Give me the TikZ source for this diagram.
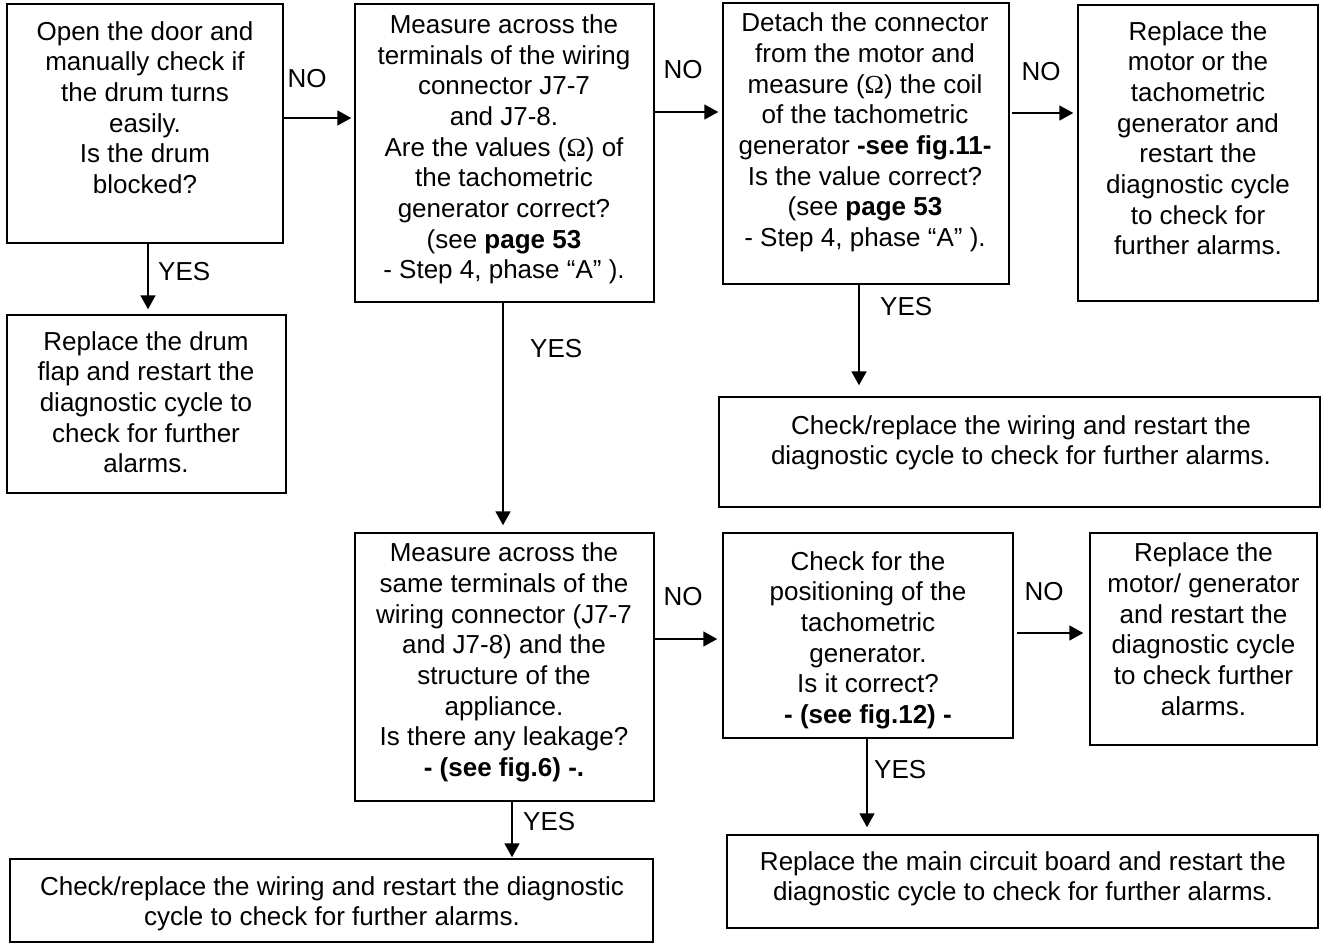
\documentclass[tikz,border=0pt]{standalone}
\usepackage{fontspec}
\setmainfont{Liberation Sans}
\newfontfamily\omfont{Liberation Serif}
\usetikzlibrary{arrows.meta}
\begin{document}
\begin{tikzpicture}[x=1pt,y=-1pt,
  box/.style={draw, line width=1.5pt, inner sep=0pt},
  txt/.style={inner sep=0pt, align=center, font=\fontsize{26}{30.7}\selectfont, anchor=north},
  lbl/.style={inner sep=0pt, font=\fontsize{26}{30.7}\selectfont},
  arr/.style={line width=1.8pt, -{Triangle[length=14pt,width=15pt]}}]
\useasboundingbox (0,0) rectangle (1322,945);

% boxes
\node[box, minimum width=276pt, minimum height=239pt] (A) at (145,123.5) {};
\node[box, minimum width=299pt, minimum height=298pt] (B) at (504.5,153) {};
\node[box, minimum width=286pt, minimum height=281pt] (C) at (866,143.5) {};
\node[box, minimum width=240pt, minimum height=296pt] (D) at (1198,153) {};
\node[box, minimum width=279pt, minimum height=178pt] (E) at (146.5,404) {};
\node[box, minimum width=601pt, minimum height=110pt] (H) at (1019.5,452) {};
\node[box, minimum width=299pt, minimum height=268pt] (J) at (504.5,667) {};
\node[box, minimum width=290pt, minimum height=205pt] (F) at (868,635.5) {};
\node[box, minimum width=227pt, minimum height=212pt] (G) at (1203.5,639) {};
\node[box, minimum width=591pt, minimum height=93pt] (I) at (1022.5,881.5) {};
\node[box, minimum width=643pt, minimum height=83pt] (K) at (331.5,900.5) {};

% texts
\node[txt] (At) at (145,21) {Open the door and\\manually check if\\the drum turns\\easily.\\Is the drum\\blocked?};
\node[txt] (Bt) at (504,14.3) {Measure across the\\terminals of the wiring\\connector J7-7\\and J7-8.\\Are the values ({\omfont Ω}) of\\the tachometric\\generator correct?\\(see \textbf{page 53}\\- Step 4, phase “A” ).};
\node[txt] (Ct) at (865,12.7) {Detach the connector\\from the motor and\\measure ({\omfont Ω}) the coil\\of the tachometric\\generator \textbf{-see fig.11-}\\Is the value correct?\\(see \textbf{page 53}\\- Step 4, phase “A” ).};
\node[txt] (Dt) at (1198,21) {Replace the\\motor or the\\tachometric\\generator and\\restart the\\diagnostic cycle\\to check for\\further alarms.};
\node[txt] (Et) at (146,331) {Replace the drum\\flap and restart the\\diagnostic cycle to\\check for further\\alarms.};
\node[txt] (Ht) at (1021,415) {Check/replace the wiring and restart the\\diagnostic cycle to check for further alarms.};
\node[txt] (Jt) at (504,542.7) {Measure across the\\same terminals of the\\wiring connector (J7-7\\and J7-8) and the\\structure of the\\appliance.\\Is there any leakage?\\\textbf{- (see fig.6) -.}};
\node[txt] (Ft) at (868,551) {Check for the\\positioning of the\\tachometric\\generator.\\Is it correct?\\\textbf{- (see fig.12) -}};
\node[txt] (Gt) at (1203.5,542.7) {Replace the\\motor/ generator\\and restart the\\diagnostic cycle\\to check further\\alarms.};
\node[txt] (It) at (1023,851) {Replace the main circuit board and restart the\\diagnostic cycle to check for further alarms.};
\node[txt] (Kt) at (332,876) {Check/replace the wiring and restart the diagnostic\\cycle to check for further alarms.};

% connectors
\draw[arr, shorten >=3pt] (A.east |- 0,118) -- (B.west |- 0,118);
\draw[arr, shorten >=4pt] (B.east |- 0,112) -- (C.west |- 0,112);
\draw[arr, shorten <=2pt, shorten >=4pt] (C.east |- 0,113) -- (D.west |- 0,113);
\draw[arr, shorten >=5pt] (A.south -| 148,0) -- (E.north -| 148,0);
\draw[arr, shorten >=7pt] (B.south -| 503,0) -- (J.north -| 503,0);
\draw[arr, shorten >=11pt] (C.south -| 859,0) -- (H.north -| 859,0);
\draw[arr, shorten >=5pt] (J.east |- 0,639) -- (F.west |- 0,639);
\draw[arr, shorten <=3pt, shorten >=6pt] (F.east |- 0,633) -- (G.west |- 0,633);
\draw[arr, shorten >=1pt] (J.south -| 512,0) -- (K.north -| 512,0);
\draw[arr, shorten >=7pt] (F.south -| 867,0) -- (I.north -| 867,0);

% labels
\node[lbl, anchor=base] (no1) at (307,87) {NO};
\node[lbl, anchor=base] (no2) at (683,78) {NO};
\node[lbl, anchor=base] (no3) at (1041,80) {NO};
\node[lbl, anchor=base] (no4) at (683,605) {NO};
\node[lbl, anchor=base] (no5) at (1044,600) {NO};
\node[lbl, anchor=base west] (yes1) at (158,280) {YES};
\node[lbl, anchor=base west] (yes2) at (530,357) {YES};
\node[lbl, anchor=base west] (yes3) at (880,315) {YES};
\node[lbl, anchor=base west] (yes4) at (523,830) {YES};
\node[lbl, anchor=base west] (yes5) at (874,778) {YES};
\end{tikzpicture}
\end{document}
